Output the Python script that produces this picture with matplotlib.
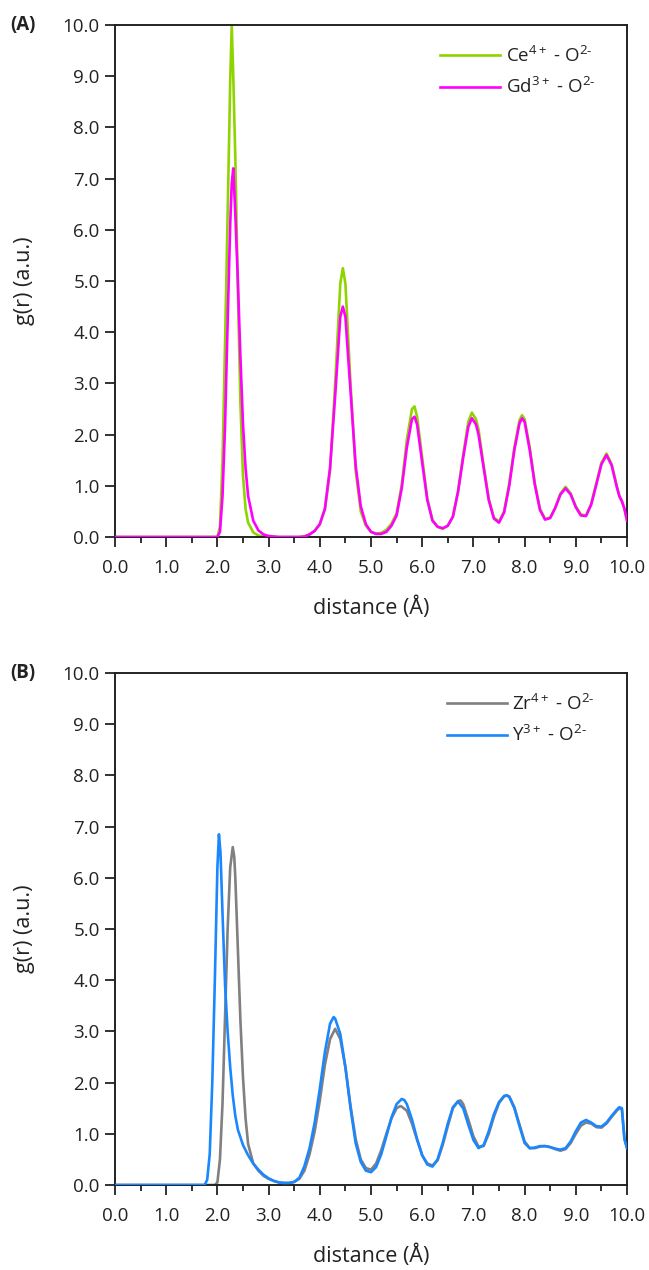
import matplotlib
matplotlib.use("Agg")
import matplotlib.pyplot as plt
from matplotlib.ticker import MultipleLocator, FormatStrFormatter

plt.rcParams['font.family'] = ['Open Sans', 'DejaVu Sans']
plt.rcParams['mathtext.fontset'] = 'custom'
plt.rcParams['mathtext.rm'] = 'Open Sans'
plt.rcParams['mathtext.it'] = 'Open Sans'

# ---------------- Panel A data ----------------
x_ce = [0.0, 1.9, 2.0, 2.05, 2.1, 2.15, 2.2, 2.25, 2.28, 2.31, 2.35, 2.4, 2.45, 2.5, 2.55, 2.6, 2.7, 2.8, 2.9, 3.0,
        3.2, 3.4, 3.6, 3.7, 3.8, 3.9, 4.0, 4.1, 4.2, 4.3, 4.4, 4.45, 4.5, 4.6, 4.7, 4.8, 4.9, 5.0, 5.1, 5.2, 5.3,
        5.4, 5.5, 5.6, 5.7, 5.8, 5.85, 5.9, 6.0, 6.1, 6.2, 6.3, 6.4, 6.5, 6.6, 6.7, 6.8, 6.9, 6.97, 7.05, 7.1,
        7.2, 7.3, 7.4, 7.5, 7.6, 7.7, 7.8, 7.9, 7.95, 8.0, 8.1, 8.2, 8.3, 8.4, 8.5, 8.6, 8.7, 8.8, 8.9, 9.0,
        9.1, 9.2, 9.3, 9.4, 9.5, 9.6, 9.7, 9.8, 9.85, 9.9, 9.95, 10.0]
g_ce = [0.0, 0.0, 0.0, 0.2, 1.5, 3.8, 6.3, 8.9, 10.0, 9.0, 7.4, 4.8, 2.6, 1.2, 0.55, 0.28, 0.09, 0.03, 0.01, 0.0,
        0.0, 0.0, 0.0, 0.01, 0.05, 0.12, 0.25, 0.55, 1.3, 3.0, 4.95, 5.25, 4.95, 3.0, 1.3, 0.5, 0.22, 0.1, 0.07, 0.08, 0.14,
        0.26, 0.46, 1.02, 1.9, 2.5, 2.55, 2.35, 1.55, 0.75, 0.33, 0.2, 0.16, 0.22, 0.4, 0.9, 1.6, 2.25, 2.43, 2.3, 2.1,
        1.4, 0.75, 0.38, 0.3, 0.5, 1.05, 1.75, 2.28, 2.38, 2.3, 1.75, 1.05, 0.55, 0.35, 0.38, 0.58, 0.85, 0.98, 0.85, 0.6,
        0.44, 0.42, 0.65, 1.05, 1.45, 1.63, 1.42, 1.0, 0.8, 0.7, 0.55, 0.32]

x_gd = x_ce
g_gd = [0.0, 0.0, 0.0, 0.1, 0.8, 2.2, 4.2, 6.1, 6.9, 7.2, 6.3, 5.0, 3.5, 2.2, 1.35, 0.8, 0.32, 0.13, 0.05, 0.02,
        0.0, 0.0, 0.0, 0.01, 0.05, 0.12, 0.25, 0.55, 1.35, 2.75, 4.3, 4.5, 4.3, 2.85, 1.4, 0.6, 0.25, 0.1, 0.06, 0.06, 0.1,
        0.22, 0.42, 0.95, 1.75, 2.3, 2.35, 2.2, 1.45, 0.72, 0.32, 0.2, 0.17, 0.22, 0.4, 0.88, 1.55, 2.15, 2.32, 2.2, 2.0,
        1.35, 0.72, 0.36, 0.28, 0.48, 1.0, 1.7, 2.22, 2.32, 2.25, 1.7, 1.02, 0.53, 0.34, 0.37, 0.57, 0.83, 0.95, 0.83, 0.58,
        0.42, 0.41, 0.63, 1.02, 1.42, 1.6, 1.4, 0.98, 0.8, 0.7, 0.55, 0.32]

# ---------------- Panel B data ----------------
x_zr = [0.0, 1.9, 1.95, 2.0, 2.05, 2.1, 2.15, 2.2, 2.25, 2.3, 2.33, 2.35, 2.4, 2.45, 2.5, 2.55, 2.6, 2.7, 2.8, 2.9,
        3.0, 3.1, 3.2, 3.3, 3.4, 3.5, 3.6, 3.7, 3.8, 3.9, 4.0, 4.1, 4.2, 4.3, 4.4, 4.5, 4.6, 4.7, 4.8, 4.9,
        5.0, 5.1, 5.2, 5.3, 5.4, 5.5, 5.57, 5.6, 5.7, 5.8, 5.9, 6.0, 6.1, 6.2, 6.3, 6.4, 6.5, 6.6, 6.7, 6.75,
        6.8, 6.9, 7.0, 7.1, 7.2, 7.3, 7.4, 7.5, 7.6, 7.65, 7.7, 7.8, 7.9, 8.0, 8.1, 8.2, 8.3, 8.4, 8.5, 8.6,
        8.7, 8.8, 8.9, 9.0, 9.1, 9.2, 9.3, 9.4, 9.5, 9.6, 9.7, 9.8, 9.85, 9.9, 9.95, 10.0]
g_zr = [0.0, 0.0, 0.0, 0.05, 0.5, 1.6, 3.3, 5.0, 6.2, 6.6, 6.4, 6.0, 4.6, 3.2, 2.1, 1.3, 0.8, 0.42, 0.28, 0.18,
        0.12, 0.08, 0.05, 0.04, 0.04, 0.06, 0.12, 0.28, 0.6, 1.05, 1.65, 2.35, 2.85, 3.05, 2.85, 2.3, 1.55, 0.9, 0.5, 0.33,
        0.3, 0.42, 0.68, 1.0, 1.3, 1.5, 1.54, 1.53, 1.45, 1.2, 0.88, 0.58, 0.42, 0.38, 0.48, 0.78, 1.15, 1.5, 1.64, 1.65,
        1.58, 1.28, 0.95, 0.75, 0.76, 1.0, 1.33, 1.6, 1.73, 1.75, 1.73, 1.52, 1.18, 0.85, 0.72, 0.72, 0.75, 0.76, 0.74, 0.7,
        0.67, 0.7, 0.82, 1.0, 1.16, 1.22, 1.2, 1.13, 1.12, 1.2, 1.33, 1.45, 1.5, 1.48, 0.9, 0.72]

x_y = [0.0, 1.7, 1.75, 1.8, 1.85, 1.9, 1.95, 2.0, 2.03, 2.06, 2.1, 2.15, 2.2, 2.25, 2.3, 2.35, 2.4, 2.5, 2.6, 2.7,
       2.8, 2.9, 3.0, 3.1, 3.2, 3.3, 3.4, 3.5, 3.6, 3.7, 3.8, 3.9, 4.0, 4.1, 4.2, 4.27, 4.3, 4.4, 4.5, 4.6,
       4.7, 4.8, 4.9, 5.0, 5.1, 5.2, 5.3, 5.4, 5.5, 5.6, 5.65, 5.7, 5.8, 5.9, 6.0, 6.1, 6.2, 6.3, 6.4, 6.5,
       6.6, 6.7, 6.8, 6.9, 7.0, 7.1, 7.2, 7.3, 7.4, 7.5, 7.6, 7.65, 7.7, 7.8, 7.9, 8.0, 8.1, 8.2, 8.3, 8.4,
       8.5, 8.6, 8.7, 8.8, 8.9, 9.0, 9.1, 9.2, 9.3, 9.4, 9.5, 9.6, 9.7, 9.8, 9.85, 9.9, 9.95, 10.0]
g_y = [0.0, 0.0, 0.0, 0.1, 0.6, 2.0, 4.0, 6.2, 6.85, 6.5, 5.3, 3.9, 3.0, 2.3, 1.75, 1.35, 1.08, 0.78, 0.58, 0.42,
       0.3, 0.2, 0.13, 0.08, 0.05, 0.04, 0.04, 0.06, 0.14, 0.37, 0.72, 1.22, 1.88, 2.6, 3.15, 3.28, 3.25, 2.95, 2.3, 1.5,
       0.82, 0.45, 0.28, 0.25, 0.35, 0.6, 0.95, 1.32, 1.58, 1.68, 1.66, 1.58, 1.28, 0.9, 0.58, 0.4, 0.36, 0.5, 0.82, 1.2,
       1.52, 1.63, 1.5, 1.18, 0.88, 0.72, 0.78, 1.05, 1.38, 1.62, 1.74, 1.75, 1.72, 1.5, 1.15, 0.82, 0.72, 0.73, 0.76, 0.76,
       0.74, 0.71, 0.69, 0.72, 0.85, 1.05, 1.22, 1.27, 1.22, 1.15, 1.14, 1.22, 1.35, 1.47, 1.52, 1.5, 0.9, 0.72]

labels_a = [r'Ce$^{4+}$ - O$^{2‐}$', r'Gd$^{3+}$ - O$^{2‐}$']
labels_b = [r'Zr$^{4+}$ - O$^{2‐}$', r'Y$^{3+}$ - O$^{2‐}$']
panel_tags = ['(A)', '(B)']
x_label = 'distance (Å)'
y_label = 'g(r) (a.u.)'

W, H = 649, 1270
fig = plt.figure(figsize=(W / 100, H / 100), dpi=100)

def px_axes(left, top, right, bottom):
    return fig.add_axes([left / W, 1 - bottom / H, (right - left) / W, (bottom - top) / H])

ax_a = px_axes(115, 25, 627, 537)
ax_b = px_axes(115, 673, 627, 1185)

FS = 13.5
LFS = 15.5
ax_a.plot(x_ce, g_ce, color='#8fd400', lw=1.9, label=labels_a[0], zorder=2)
ax_a.plot(x_gd, g_gd, color='#ff00ff', lw=1.9, label=labels_a[1], zorder=3)
ax_b.plot(x_zr, g_zr, color='#808080', lw=1.9, label=labels_b[0], zorder=2)
ax_b.plot(x_y, g_y, color='#1a87ff', lw=1.9, label=labels_b[1], zorder=3)

for ax, tag in zip([ax_a, ax_b], panel_tags):
    ax.set_xlim(0, 10)
    ax.set_ylim(0, 10)
    ax.xaxis.set_major_locator(MultipleLocator(1.0))
    ax.xaxis.set_minor_locator(MultipleLocator(0.5))
    ax.yaxis.set_major_locator(MultipleLocator(1.0))
    ax.xaxis.set_major_formatter(FormatStrFormatter('%.1f'))
    ax.yaxis.set_major_formatter(FormatStrFormatter('%.1f'))
    ax.tick_params(axis='both', which='major', direction='out', length=7, width=1.3,
                   labelsize=FS, colors='#222222', labelcolor='#222222', pad=4)
    ax.tick_params(axis='x', which='major', pad=9)
    ax.tick_params(axis='x', which='minor', direction='out', length=4, width=1.3, colors='#222222')
    ax.tick_params(top=False, right=False)
    for sp in ax.spines.values():
        sp.set_linewidth(1.4)
        sp.set_color('#222222')
    ax.set_xlabel(x_label, fontsize=LFS, color='#222222', labelpad=14)
    ax.set_ylabel(y_label, fontsize=LFS, color='#222222', labelpad=20)
    leg = ax.legend(loc='upper right', bbox_to_anchor=(0.963, 0.985), frameon=False, fontsize=FS,
                    handlelength=3.2, handletextpad=0.3, labelspacing=0.6, borderaxespad=0.3)
    for t in leg.get_texts():
        t.set_color('#222222')
    ax.text(-0.205, 1.0, tag, transform=ax.transAxes, fontsize=FS, fontweight='bold',
            ha='left', va='center', color='#222222')

fig.savefig('out.png', dpi=100)
